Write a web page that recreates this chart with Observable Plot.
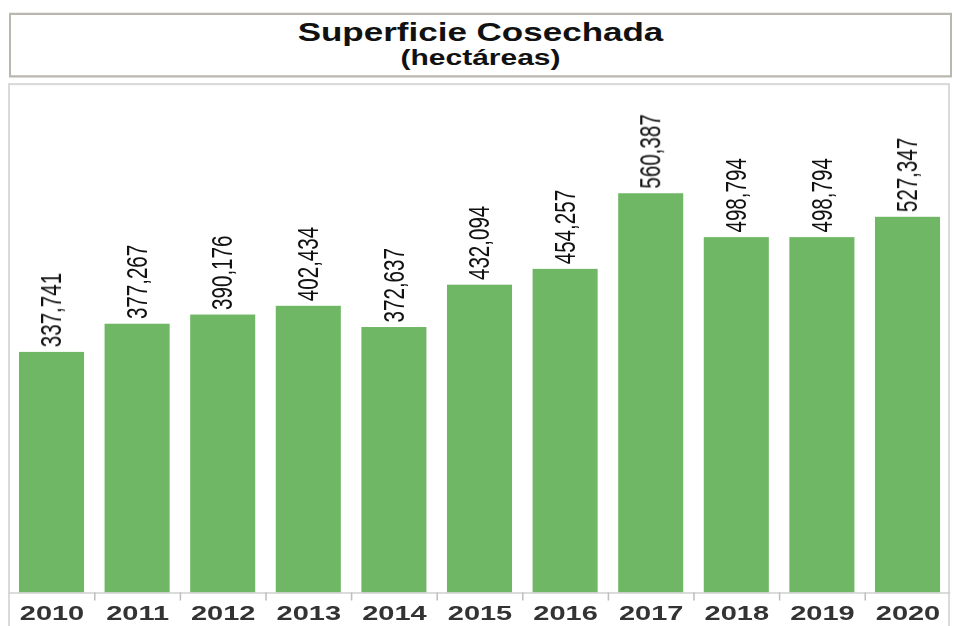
<!DOCTYPE html>
<html>
<head>
<meta charset="utf-8">
<script src="https://cdn.jsdelivr.net/npm/d3@7"></script>
<script src="https://cdn.jsdelivr.net/npm/@observablehq/plot@0.6"></script>
<style>
  html, body { margin: 0; padding: 0; background: #fff; overflow: hidden; }
  #stage {
    position: absolute; left: 0; top: 0; width: 954px; height: 890px;
    transform: scaleY(0.71); transform-origin: 0 0;
    font-family: "Liberation Sans", Arial, sans-serif;
  }
  #titlebox {
    position: absolute; left: 9px; top: 18px; width: 943px; height: 91px;
    box-sizing: border-box; border: 2px solid #b9b7af; border-top-width: 3px; border-bottom-width: 3px;
    background: #fff;
  }
  .t { position: absolute; left: 9px; width: 943px; text-align: center; font-weight: bold; color: #111; line-height: 1; white-space: nowrap; }
  #t1 { top: 28px; font-size: 35px; }
  #t2 { top: 66px; font-size: 30px; }
  #plotbox {
    position: absolute; left: 8px; top: 117px; width: 942px; height: 800px;
    box-sizing: border-box; border: 2px solid #dadada; border-top-width: 3px; border-bottom: none;
  }
  #chart { position: absolute; left: 0; top: 117px; }
</style>
</head>
<body>
<div id="stage">
  <div id="titlebox"></div>
  <div class="t" id="t1">Superficie Cosechada</div>
  <div class="t" id="t2">(hectáreas)</div>
  <div id="plotbox"></div>
  <div id="chart"></div>
</div>
<script>
const years = ["2010","2011","2012","2013","2014","2015","2016","2017","2018","2019","2020"];
const hectares = [337741, 377267, 390176, 402434, 372637, 432094, 454257, 560387, 498794, 498794, 527347];

const data = years.map((y, i) => ({year: y, value: hectares[i]}));
const fmt = d3.format(",");

const W = 954, H = 765, ML = 8.7, MR = 3.7;
const step = (W - ML - MR) / years.length;

const chart = Plot.plot({
  width: W,
  height: H,
  marginLeft: ML,
  marginRight: MR,
  marginTop: 0,
  marginBottom: 47.4,
  style: {fontFamily: "'Liberation Sans', Arial, sans-serif", background: "transparent"},
  x: {domain: years, paddingInner: 0.24, paddingOuter: 0.12, round: false},
  y: {domain: [0, 715000], axis: null},
  marks: [
    Plot.barY(data, {x: "year", y: "value", fill: "#70b765"}),
    Plot.ruleY([0], {stroke: "#cfcfcf", strokeWidth: 2}),
    Plot.ruleX(years.slice(1), {x: d => d, y1: 0, y2: 0, insetBottom: -11, dx: -step / 2, stroke: "#bdbdbd", strokeWidth: 1.5}),
    Plot.text(data, {
      x: "year", y: "value", text: d => fmt(d.value),
      rotate: -90, textAnchor: "start", dy: -7,
      fontSize: 29, fill: "#111"
    }),
    Plot.axisX({tickSize: 0, tickPadding: 17, fontSize: 29, fontWeight: "bold", fill: "#333", label: null})
  ]
});
document.getElementById("chart").appendChild(chart);
</script>
</body>
</html>
